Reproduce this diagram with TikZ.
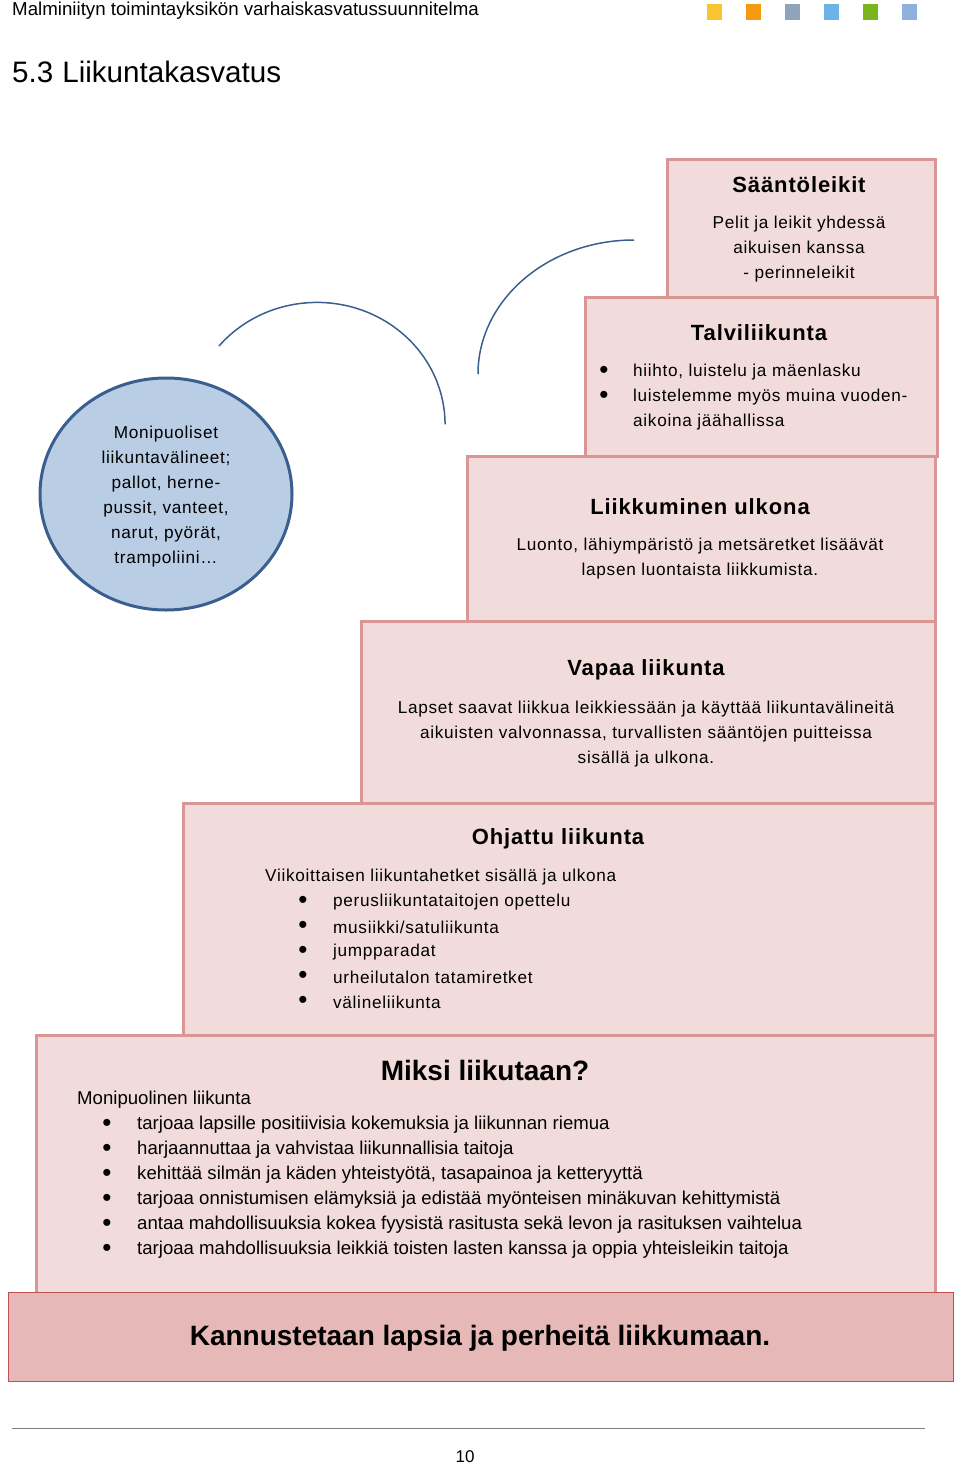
\documentclass[tikz,border=0pt]{standalone}
\usepackage{fontspec}
\setmainfont{Liberation Sans}
\newfontfamily\spaced[LetterSpace=4]{Liberation Sans}
\usetikzlibrary{shapes.geometric}
\definecolor{stepfill}{HTML}{F2DCDB}
\definecolor{stepline}{HTML}{D99694}
\definecolor{cheerfill}{HTML}{E6B8B7}
\definecolor{cheerline}{HTML}{C0504D}
\definecolor{ballfill}{HTML}{B9CDE5}
\definecolor{ballline}{HTML}{3A5F8F}
\definecolor{sqA}{HTML}{F8C52E}
\definecolor{sqB}{HTML}{F29B0E}
\definecolor{sqC}{HTML}{8FA3BC}
\definecolor{sqD}{HTML}{6DB3E3}
\definecolor{sqE}{HTML}{7AB51D}
\definecolor{sqF}{HTML}{8CB1DD}
\newcommand\stepfont{\spaced\fontsize{17.2}{25}\selectfont}
\newcommand\listfont{\fontsize{18.6}{25}\selectfont}
\begin{document}
\begin{tikzpicture}[x=1pt,y=-1pt]
\tikzset{every node/.style={inner sep=0pt}}
\tikzset{stepbox/.style={draw=stepline,fill=stepfill,line width=3pt,anchor=north west}}
\tikzset{steptitle/.style={font=\spaced\bfseries\fontsize{22}{26}\selectfont}}
\tikzset{steptext/.style={font=\stepfont,align=center}}
\tikzset{bullet/.style={font=\fontsize{26}{26}\selectfont}}
%\tikzset{steptitle/.style={font=\bfseries\Large}}
\useasboundingbox (0,0) rectangle (960,1464);
% header
\node[anchor=base west,font=\fontsize{18.7}{20}\selectfont] (head) at (12,16) {Malminiityn toimintayksikön varhaiskasvatussuunnitelma};
\foreach \c [count=\i] in {sqA,sqB,sqC,sqD,sqE,sqF}
    \node[fill=\c,minimum width=15pt,minimum height=16pt] (sq\i) at ({714+39*(\i-1)},12) {};
\node[anchor=base west,font=\fontsize{29.6}{32}\selectfont] (title) at (12,82) {5.3\hspace{9pt}Liikuntakasvatus};
% steps
\node[stepbox,minimum width=268pt,minimum height=138pt] (saanto) at (666,158) {};
\node[stepbox,minimum width=352pt,minimum height=159pt] (talvi) at (584,296) {};
\node[stepbox,minimum width=468pt,minimum height=165pt] (ulko) at (466,455) {};
\node[stepbox,minimum width=574pt,minimum height=182pt] (vapaa) at (360,620) {};
\node[stepbox,minimum width=752pt,minimum height=232pt] (ohjattu) at (182,802) {};
\node[stepbox,minimum width=899pt,minimum height=258pt] (miksi) at (35,1034) {};
\node[draw=cheerline,fill=cheerfill,line width=1pt,anchor=north west,
      minimum width=945pt,minimum height=89pt] (kannustus) at (8,1292) {};
% ball and arcs
\node[ellipse,draw=ballline,fill=ballfill,line width=3pt,minimum width=252pt,
      minimum height=232pt] (valine) at (166,494) {};
\node[font=\stepfont,align=center] (valineX) at (166,497)
      {Monipuoliset\\liikuntavälineet;\\pallot, herne-\\pussit, vanteet,\\narut, pyörät,\\trampoliini…};
\draw[ballline,line width=1.5pt] (219,346) arc[start angle=220,end angle=360,x radius=128,y radius=122];
\draw[ballline,line width=1.5pt] (478,374) arc[start angle=180,end angle=270,x radius=156,y radius=134];
% texts
\node[steptitle] (saantoT) at (799,185) {Sääntöleikit};
\node[steptext] (saantoX) at (799,249) {Pelit ja leikit yhdessä\\aikuisen kanssa\\- perinneleikit};
\node[steptitle] (talviT) at (759,333) {Talviliikunta};
\foreach \y/\t [count=\i] in {371/{hiihto, luistelu ja mäenlasku},396/luistelemme myös muina vuoden-,421/aikoina jäähallissa}
    \node[anchor=west,font=\stepfont] (talvi\i) at (633,\y+1) {\t};
\node[bullet] (talviB1) at (604,372) {\textbullet};
\node[bullet] (talviB2) at (604,397) {\textbullet};
\node[steptitle] (ulkoT) at (700,507) {Liikkuminen ulkona};
\node[steptext] (ulkoX) at (700,559) {Luonto, lähiympäristö ja metsäretket lisäävät\\lapsen luontaista liikkumista.};
\node[steptitle] (vapaaT) at (646,670) {Vapaa liikunta};
\node[steptext] (vapaaX) at (646,734) {Lapset saavat liikkua leikkiessään ja käyttää liikuntavälineitä\\aikuisten valvonnassa, turvallisten sääntöjen puitteissa\\sisällä ja ulkona.};
\node[steptitle] (ohjattuT) at (558,839) {Ohjattu liikunta};
\node[anchor=west,font=\stepfont] (ohjattuX) at (265,877) {Viikoittaisen liikuntahetket sisällä ja ulkona};
\foreach \t [count=\i] in {perusliikuntataitojen opettelu,musiikki/satuliikunta,jumpparadat,urheilutalon tatamiretket,välineliikunta}{
    \node[bullet] (ohjattuB\i) at (303,{877+25*\i}) {\textbullet};
    \node[anchor=west,font=\stepfont] (ohjattu\i) at (333,{877+25*\i}) {\t};
}
\node[font=\bfseries\fontsize{28}{32}\selectfont] (miksiT) at (485,1070) {Miksi liikutaan?};
\node[anchor=west,font=\listfont] (miksiX) at (77,1100) {Monipuolinen liikunta};
\foreach \t [count=\i] in {tarjoaa lapsille positiivisia kokemuksia ja liikunnan riemua,
    harjaannuttaa ja vahvistaa liikunnallisia taitoja,
    {kehittää silmän ja käden yhteistyötä, tasapainoa ja ketteryyttä},
    tarjoaa onnistumisen elämyksiä ja edistää myönteisen minäkuvan kehittymistä,
    antaa mahdollisuuksia kokea fyysistä rasitusta sekä levon ja rasituksen vaihtelua,
    tarjoaa mahdollisuuksia leikkiä toisten lasten kanssa ja oppia yhteisleikin taitoja}{
    \node[bullet] (miksiB\i) at (107,{1100+25*\i}) {\textbullet};
    \node[anchor=west,font=\listfont] (miksi\i) at (137,{1100+25*\i}) {\t};
}
\node[font=\bfseries\fontsize{28}{32}\selectfont] (kannustusT) at (480,1338) {Kannustetaan lapsia ja perheitä liikkumaan.};
% footer
\draw[gray,line width=1pt] (12,1428) -- (925,1428);
\node[font=\fontsize{17}{20}\selectfont] (page) at (465,1457) {10};
\end{tikzpicture}
\end{document}
